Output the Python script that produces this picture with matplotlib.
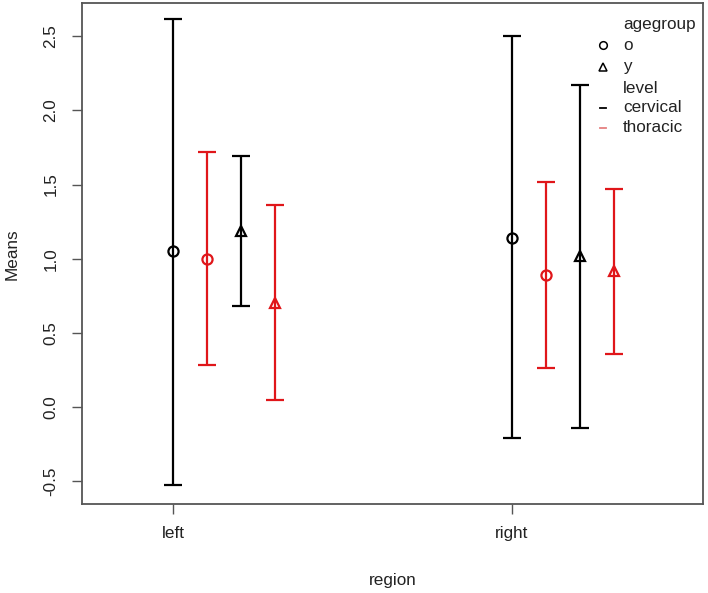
import matplotlib.pyplot as plt
from matplotlib.lines import Line2D

plt.rcParams['font.family'] = ['Liberation Sans', 'DejaVu Sans']

# regions on the x axis
regions = ["left", "right"]

# series: (agegroup, level) -> means and interval ends per region
series_keys = [("o", "cervical"), ("o", "thoracic"), ("y", "cervical"), ("y", "thoracic")]
means = {
    ("o", "cervical"): [1.05, 1.14],
    ("o", "thoracic"): [1.00, 0.89],
    ("y", "cervical"): [1.19, 1.02],
    ("y", "thoracic"): [0.70, 0.92],
}
upper = {
    ("o", "cervical"): [2.62, 2.50],
    ("o", "thoracic"): [1.72, 1.52],
    ("y", "cervical"): [1.69, 2.17],
    ("y", "thoracic"): [1.36, 1.47],
}
lower = {
    ("o", "cervical"): [-0.53, -0.21],
    ("o", "thoracic"): [0.28, 0.26],
    ("y", "cervical"): [0.68, -0.14],
    ("y", "thoracic"): [0.05, 0.36],
}
yticks = [-0.5, 0.0, 0.5, 1.0, 1.5, 2.0, 2.5]

# styling
offsets = [0.0, 0.1, 0.2, 0.3]
markers = {"o": "o", "y": "^"}
colors = {"cervical": "black", "thoracic": "#e0161a"}

fig = plt.figure(figsize=(7.08, 5.93), dpi=100)
ax = fig.add_axes([82 / 708, 89 / 593, 621 / 708, 501 / 593])

for key, off in zip(series_keys, offsets):
    age, lev = key
    xs = [i + 1 + off for i in range(len(regions))]
    m = means[key]
    err = [[mi - lo for mi, lo in zip(m, lower[key])],
           [up - mi for mi, up in zip(m, upper[key])]]
    ax.errorbar(xs, m, yerr=err, fmt=markers[age], color=colors[lev],
                mfc="none", mec=colors[lev], ms=7.3, mew=1.6,
                elinewidth=1.6, capsize=6.5, capthick=1.6)

ax.set_xlim(0.7316, 2.5634)
ax.set_ylim(-0.655, 2.725)
ax.set_xticks([1, 2])
ax.set_xticklabels(regions)
ax.set_yticks(yticks)
ax.set_yticklabels([f"{v:.1f}" for v in yticks], rotation=90, va="center")
ax.tick_params(axis="both", length=7, width=1, color="#555555",
               labelsize=12.3, colors="#222222")
ax.tick_params(axis="x", pad=9)
ax.tick_params(axis="y", pad=10)
for sp in ax.spines.values():
    sp.set_color("#555555")
    sp.set_linewidth(1.3)

fig.text(393 / 708, 1 - 580 / 593, "region", ha="center", va="center",
         fontsize=12.3, color="#222222")
fig.text(12 / 708, 1 - 254 / 593, "Means", ha="center", va="center",
         rotation=90, fontsize=12.3, color="#222222")

# legend drawn as text rows
rows = [("agegroup", None), ("o", "o"), ("y", "^"), ("level", None),
        ("cervical", "black"), ("thoracic", "#e58080")]
ys = [25, 45, 67, 88, 108, 128]
for (label, sym), y in zip(rows, ys):
    fy = 1 - y / 593
    fig.text(623 / 708, fy, label, ha="left", va="center", fontsize=12.3,
             color="#222222")
    if sym in ("o", "^"):
        fig.add_artist(Line2D([603 / 708], [fy], marker=sym, mfc="none",
                              mec="black", ms=5.5, mew=1.1, ls="none",
                              transform=fig.transFigure))
    elif sym is not None:
        fig.add_artist(Line2D([600 / 708, 606 / 708], [fy, fy], color=sym,
                              lw=1.3, transform=fig.transFigure))

fig.savefig("out.png", dpi=100)
